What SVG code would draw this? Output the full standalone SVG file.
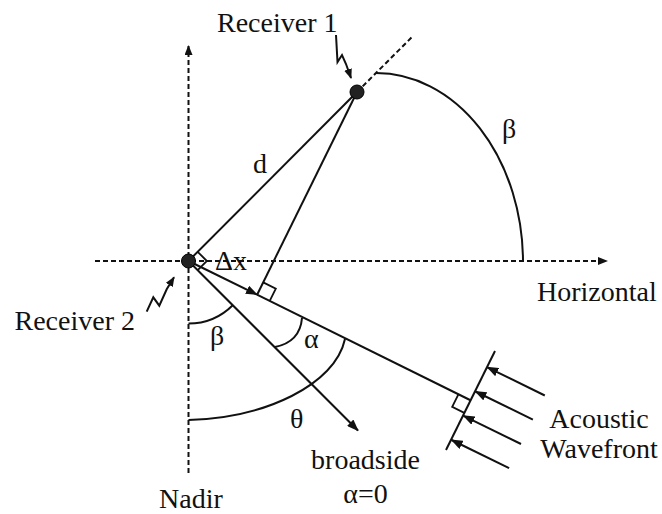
<svg xmlns="http://www.w3.org/2000/svg" width="662" height="514" viewBox="0 0 662 514">
<style>
text{font-family:'Liberation Serif','Times New Roman','DejaVu Serif',serif;font-size:28px;fill:#111}
.s{stroke:#111;stroke-width:2;fill:none}
.d{stroke:#111;stroke-width:2;fill:none;stroke-dasharray:5 3}
.t{stroke:#111;stroke-width:1.8;fill:none}
.dot{fill:#222;stroke:#000;stroke-width:1}
</style>
<defs>
<marker id="ah" viewBox="0 0 12 9" refX="11" refY="4.5" markerWidth="12" markerHeight="9" markerUnits="userSpaceOnUse" orient="auto">
<path d="M0,0 L12,4.5 L0,9 z" fill="#111"/>
</marker>
<marker id="ahs" viewBox="0 0 10 8" refX="9" refY="4" markerWidth="10" markerHeight="8" markerUnits="userSpaceOnUse" orient="auto">
<path d="M0,0 L10,4 L0,8 z" fill="#111"/>
</marker>
</defs>
<rect width="662" height="514" fill="#fff"/>
<g id="connectors">
<line class="d" x1="188.5" y1="473" x2="188.5" y2="46" marker-end="url(#ahs)"/>
<line class="d" x1="95" y1="261" x2="607" y2="261" marker-end="url(#ahs)"/>
<line class="d" x1="357" y1="92" x2="413" y2="36"/>
<line class="s" x1="188.5" y1="261" x2="357" y2="92"/>
<line class="s" x1="357" y1="92" x2="257" y2="295"/>
<line class="s" x1="188.5" y1="261" x2="257" y2="294.6" marker-end="url(#ah)"/>
<line class="s" x1="257" y1="294.6" x2="471" y2="400.5"/>
<line class="s" x1="188.5" y1="261" x2="358" y2="430.5" marker-end="url(#ah)"/>
<line class="s" x1="495" y1="351" x2="446" y2="450"/>
<line class="s" x1="544.8" y1="395.5" x2="487.3" y2="367.3" marker-end="url(#ah)"/>
<line class="s" x1="532.9" y1="419.7" x2="475.4" y2="391.5" marker-end="url(#ah)"/>
<line class="s" x1="521" y1="444" x2="463.5" y2="415.8" marker-end="url(#ah)"/>
<line class="s" x1="509.1" y1="468.2" x2="451.6" y2="440" marker-end="url(#ah)"/>
<path class="t" d="M197.7,251.8 L206.9,261 L197.7,270.2"/>
<path class="t" d="M269.6,301.2 L275.8,288.6 L263.2,282.4"/>
<path class="t" d="M458.4,394.3 L452.2,406.9 L464.8,413.1"/>
<path class="s" d="M376,73 A147,189 0 0 1 523,262"/>
<path class="s" d="M188.5,323.5 A62.5,62.5 0 0 0 232.7,305.2"/>
<path class="s" d="M275,347 Q300,342 302,318"/>
<path class="s" d="M188.5,420 C265,418 335,385 345,339"/>
</g>
<g id="receiver1" font-family="Liberation Serif, serif">
<circle class="dot" cx="357" cy="92" r="7"/>
<path class="s" d="M336,35 L337.5,62 L342,55 L346,64 L351,78" marker-end="url(#ahs)"/>
<text x="217" y="32">Receiver 1</text>
</g>
<g id="receiver2" font-family="Liberation Serif, serif">
<circle class="dot" cx="188.5" cy="261" r="7"/>
<path class="s" d="M146.7,311.7 L153.3,297.3 L159.3,305.7 L166.7,289.3 L174,277.3" marker-end="url(#ahs)"/>
<text x="135" y="330" text-anchor="end">Receiver 2</text>
</g>
<g id="labels" font-family="Liberation Serif, serif">
<text x="253" y="173">d</text>
<text x="502" y="138">β</text>
<text x="215" y="270">Δx</text>
<text x="210" y="345">β</text>
<text x="304" y="348">α</text>
<text x="290" y="428">θ</text>
<text x="537" y="301">Horizontal</text>
<text x="599" y="428" text-anchor="middle">Acoustic</text>
<text x="599" y="458" text-anchor="middle">Wavefront</text>
<text x="365.5" y="469" text-anchor="middle">broadside</text>
<text x="365.5" y="503" text-anchor="middle">α=0</text>
<text x="159" y="508">Nadir</text>
</g>
</svg>
